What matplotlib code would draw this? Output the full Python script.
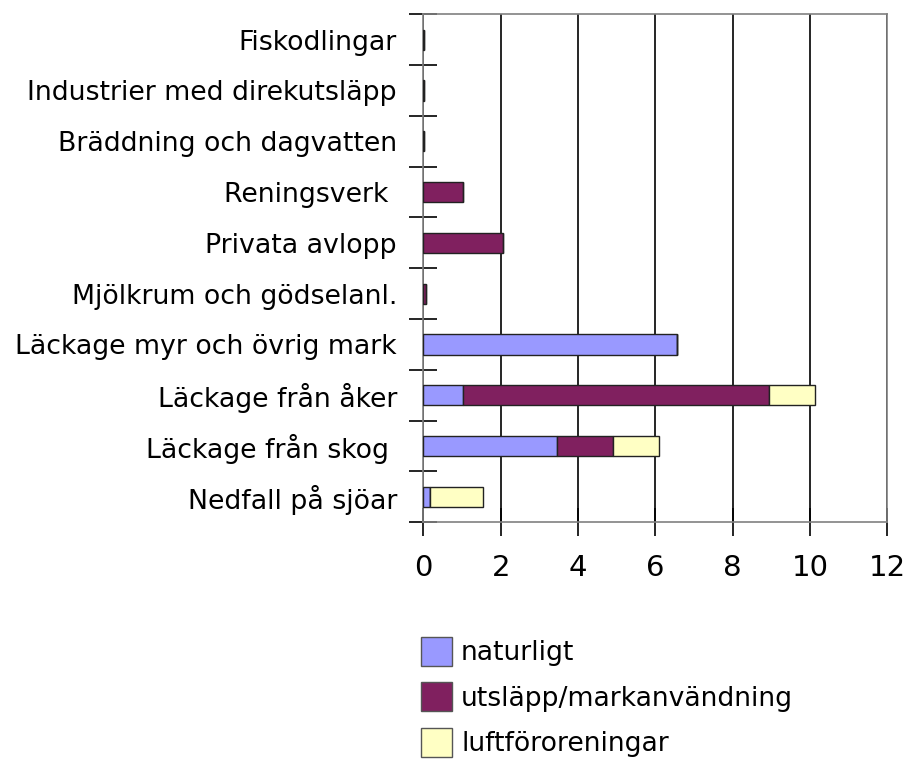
import matplotlib
matplotlib.use("Agg")
import matplotlib.pyplot as plt
from matplotlib.patches import Patch

categories = ["Nedfall på sjöar", "Läckage från skog ", "Läckage från åker",
              "Läckage myr och övrig mark", "Mjölkrum och gödselanl.",
              "Privata avlopp", "Reningsverk ", "Bräddning och dagvatten",
              "Industrier med direkutsläpp", "Fiskodlingar"]
naturligt = [0.18, 3.47, 1.03, 6.56, 0.0, 0.0, 0.0, 0.0, 0.0, 0.0]
utslapp = [0.0, 1.43, 7.91, 0.0, 0.07, 2.07, 1.03, 0.03, 0.01, 0.01]
luft = [1.36, 1.19, 1.18, 0.0, 0.0, 0.0, 0.0, 0.0, 0.0, 0.0]
series_names = ["naturligt", "utsläpp/markanvändning", "luftföroreningar"]
colors = ["#9999FF", "#80205F", "#FFFFC4"]
xticks = [0, 2, 4, 6, 8, 10, 12]

plt.rcParams['font.family'] = ['DejaVu Sans']

fig = plt.figure(figsize=(9.06, 7.6), dpi=100)
ax = fig.add_axes([0.4672, 0.3128, 0.5122, 0.6684])

y = list(range(len(categories)))
left = [0.0] * len(categories)
for vals, col, name in zip([naturligt, utslapp, luft], colors, series_names):
    ax.barh(y, vals, left=left, height=0.4, color=col, edgecolor="#222222",
            linewidth=1.0, label=name, zorder=3)
    left = [a + b for a, b in zip(left, vals)]

ax.set_xlim(0, 12)
ax.set_ylim(-0.5, len(categories) - 0.5)
ax.set_xticks(xticks)
ax.set_xticklabels([str(t) for t in xticks], fontsize=21)
ax.set_yticks(y)
ax.set_yticklabels(categories, fontsize=19.3)
ax.tick_params(axis='y', length=0, pad=19)
ax.set_yticks([i - 0.5 for i in range(len(categories) + 1)], minor=True)
ax.tick_params(axis='y', which='minor', direction='inout', length=20, width=1.2, color='black')
ax.tick_params(axis='x', direction='inout', length=20, width=1.2, color='black', pad=13)

ax.grid(axis='x', color='black', linewidth=1.2, zorder=1)
for s in ax.spines.values():
    s.set_color('#808080')
    s.set_linewidth(1.2)

handles = [Patch(facecolor=c, edgecolor="#555555", label=n) for c, n in zip(colors, series_names)]
fig.legend(handles=handles, loc='upper left', bbox_to_anchor=(0.453, 0.176),
           frameon=False, fontsize=19.2, handlelength=1.15, handleheight=1.3,
           labelspacing=0.6, handletextpad=0.35, borderaxespad=0)

fig.savefig("out.png", dpi=100)
